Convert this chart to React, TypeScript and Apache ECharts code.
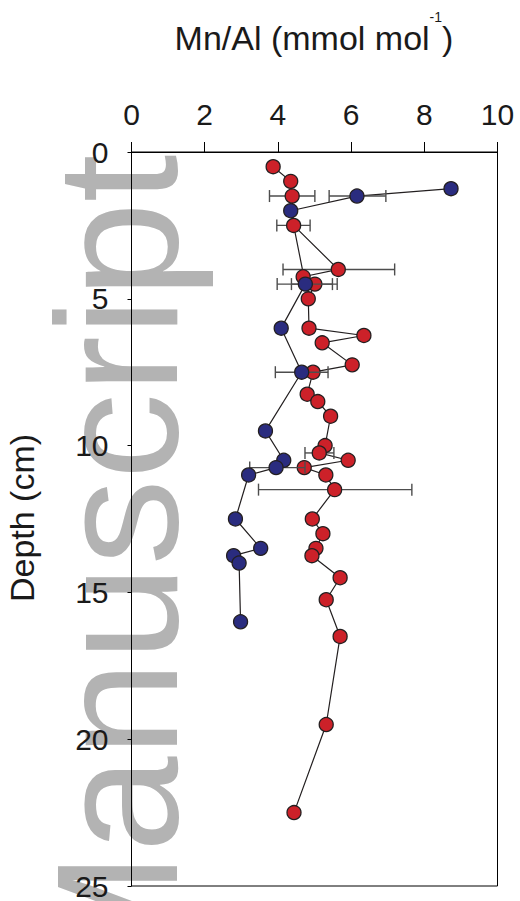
import React, { useEffect, useRef } from 'react';
import * as echarts from 'echarts';

// Mn/Al (mmol/mol) profiles vs depth (cm)
const redDepth = [0.5, 1.0, 1.5, 2.5, 4.0, 4.25, 4.5, 5.0, 6.0, 6.25, 6.5, 7.25, 7.5, 8.25, 8.5, 9.0, 10.0, 10.25, 10.5, 10.75, 11.0, 11.5, 12.5, 13.0, 13.5, 13.75, 14.5, 15.25, 16.5, 19.5, 22.5];
const redMnAl = [3.87, 4.35, 4.39, 4.43, 5.65, 4.69, 5.01, 4.83, 4.85, 6.35, 5.21, 6.03, 4.96, 4.80, 5.09, 5.44, 5.29, 5.13, 5.92, 4.72, 5.31, 5.55, 4.94, 5.23, 5.04, 4.93, 5.70, 5.32, 5.70, 5.32, 4.44];

const blueDepth = [1.25, 1.5, 2.0, 4.5, 6.0, 7.5, 9.5, 10.5, 10.75, 11.0, 12.5, 13.5, 13.75, 14.0, 16.0];
const blueMnAl = [8.73, 6.16, 4.35, 4.75, 4.09, 4.65, 3.66, 4.16, 3.95, 3.20, 2.84, 3.53, 2.79, 2.94, 2.98];

const redErrDepth = [1.5, 2.5, 4.0, 4.5, 10.25, 11.5];
const redErrLow = [3.77, 3.97, 4.14, 4.37, 4.74, 3.47];
const redErrHigh = [5.01, 4.88, 7.19, 5.62, 5.53, 7.66];

const blueErrDepth = [1.5, 4.5, 7.5, 10.75];
const blueErrLow = [5.40, 3.98, 3.93, 3.23];
const blueErrHigh = [6.95, 5.49, 5.37, 4.74];

const xTicks = [0, 2, 4, 6, 8, 10];
const yTicks = [0, 5, 10, 15, 20, 25];

const FONT = '"Liberation Sans", Arial, Helvetica, sans-serif';
const RED = '#cc2129';
const BLUE = '#2a2c7f';
const EDGE = '#231f20';
const ERR = '#4d4d4d';

export default function App() {
  const ref = useRef<HTMLDivElement>(null);

  useEffect(() => {
    const chart = echarts.init(ref.current as HTMLDivElement, null, { renderer: 'svg' });

    const errRender = (color: string) => (params: any, api: any) => {
      const d = api.value(2);
      const a = api.coord([api.value(0), d]);
      const b = api.coord([api.value(1), d]);
      const h = 6;
      const style = { stroke: color, lineWidth: 1.4 };
      return {
        type: 'group',
        children: [
          { type: 'line', shape: { x1: a[0], y1: a[1], x2: b[0], y2: b[1] }, style },
          { type: 'line', shape: { x1: a[0], y1: a[1] - h, x2: a[0], y2: a[1] + h }, style },
          { type: 'line', shape: { x1: b[0], y1: b[1] - h, x2: b[0], y2: b[1] + h }, style },
        ],
      };
    };

    const red = redDepth.map((d, i) => [redMnAl[i], d]);
    const blue = blueDepth.map((d, i) => [blueMnAl[i], d]);
    const redErr = redErrDepth.map((d, i) => [redErrLow[i], redErrHigh[i], d]);
    const blueErr = blueErrDepth.map((d, i) => [blueErrLow[i], blueErrHigh[i], d]);

    chart.setOption({
      animation: false,
      backgroundColor: '#ffffff',
      grid: {
        left: 131.5,
        right: 22.5,
        top: 152,
        bottom: 14,
        show: true,
        borderColor: '#000',
        borderWidth: 1,
        backgroundColor: 'transparent',
        z: 1,
      },
      xAxis: {
        type: 'value',
        position: 'top',
        min: xTicks[0],
        max: xTicks[xTicks.length - 1],
        interval: 2,
        axisLine: { show: true, lineStyle: { color: '#000', width: 1 } },
        axisTick: { show: true, length: 10, lineStyle: { color: '#000', width: 1 } },
        axisLabel: { fontSize: 30, color: '#1a1a1a', fontFamily: FONT, margin: 23, showMinLabel: true, showMaxLabel: true },
        splitLine: { show: false },
      },
      yAxis: {
        type: 'value',
        inverse: true,
        min: yTicks[0],
        max: yTicks[yTicks.length - 1],
        interval: 5,
        axisLine: { show: true, lineStyle: { color: '#000', width: 1 } },
        axisTick: { show: true, length: 4, lineStyle: { color: '#000', width: 1 } },
        axisLabel: { fontSize: 30, color: '#1a1a1a', fontFamily: FONT, margin: 23, showMinLabel: true, showMaxLabel: true },
        splitLine: { show: false },
      },
      graphic: [
        {
          type: 'text',
          x: 117,
          y: 575,
          rotation: Math.PI / 2,
          z: -10,
          silent: true,
          style: {
            text: 'Manuscript',
            fontSize: 172,
            fontFamily: FONT,
            fill: '#b3b3b3',
            align: 'center',
            verticalAlign: 'middle',
          },
        },
        {
          type: 'text',
          x: 314,
          y: 38,
          z: 10,
          style: {
            text: '{a|Mn/Al (mmol mol}{s|-1}{a|)}',
            align: 'center',
            verticalAlign: 'middle',
            fill: '#1a1a1a',
            rich: {
              a: { fontSize: 34, fontFamily: FONT, lineHeight: 56, fill: '#1a1a1a' },
              s: { fontSize: 14, fontFamily: FONT, lineHeight: 14, verticalAlign: 'top', fill: '#1a1a1a' },
            },
          },
        },
        {
          type: 'text',
          x: 22,
          y: 518,
          rotation: Math.PI / 2,
          z: 10,
          style: {
            text: 'Depth (cm)',
            fontSize: 34,
            fontFamily: FONT,
            fill: '#1a1a1a',
            align: 'center',
            verticalAlign: 'middle',
          },
        },
      ],
      series: [
        {
          type: 'line',
          data: red,
          symbol: 'none',
          lineStyle: { color: EDGE, width: 1.2 },
          z: 2,
          silent: true,
        },
        {
          type: 'line',
          data: blue,
          symbol: 'none',
          lineStyle: { color: EDGE, width: 1.2 },
          z: 2,
          silent: true,
        },
        {
          type: 'custom',
          data: redErr,
          renderItem: errRender(ERR),
          encode: { x: [0, 1], y: 2 },
          z: 3,
          silent: true,
        },
        {
          type: 'scatter',
          data: red,
          symbol: 'circle',
          symbolSize: 14,
          itemStyle: { color: RED, borderColor: EDGE, borderWidth: 1.3, opacity: 1 },
          z: 4,
        },
        {
          type: 'custom',
          data: blueErr,
          renderItem: errRender(ERR),
          encode: { x: [0, 1], y: 2 },
          z: 5,
          silent: true,
        },
        {
          type: 'scatter',
          data: blue,
          symbol: 'circle',
          symbolSize: 14,
          itemStyle: { color: BLUE, borderColor: EDGE, borderWidth: 1.3, opacity: 1 },
          z: 6,
        },
      ],
    });

    return () => chart.dispose();
  }, []);

  return (
    <div
      ref={ref}
      style={{ position: 'fixed', left: 0, top: 0, width: 520, height: 901, background: '#fff' }}
    />
  );
}
